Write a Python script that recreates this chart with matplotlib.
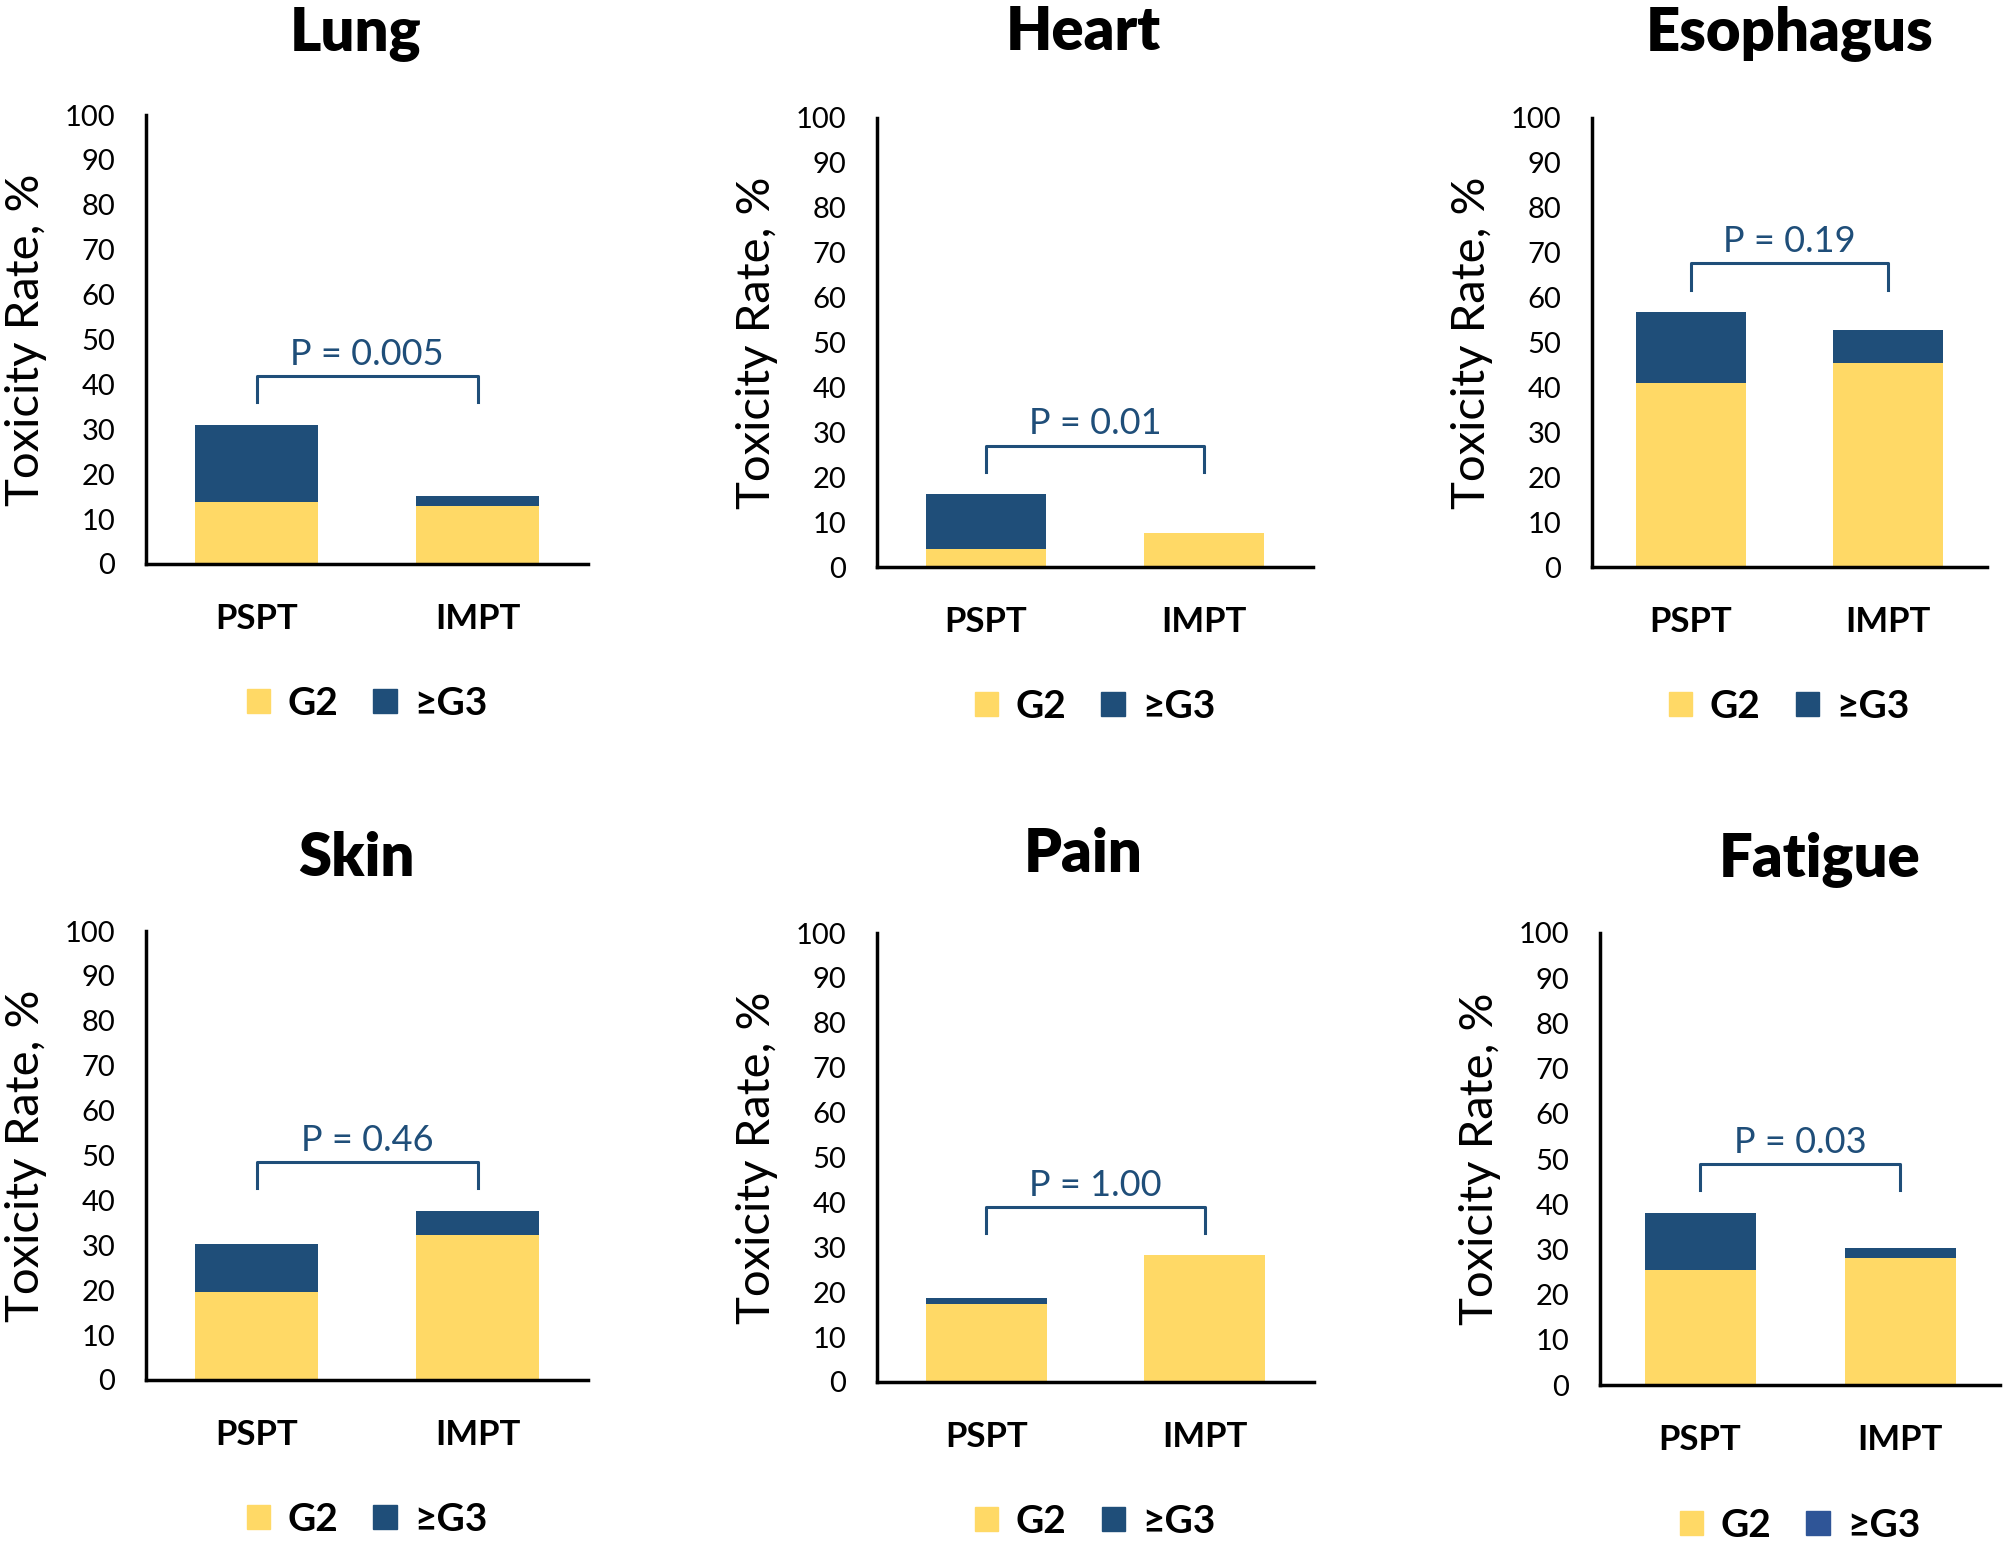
import numpy as np
import matplotlib.pyplot as plt
from matplotlib.patches import Patch

organs = ["Lung", "Heart", "Esophagus", "Skin", "Pain", "Fatigue"]
groups = ["PSPT", "IMPT"]
g2_rate = [[13.7, 13.0], [4.1, 7.5], [40.9, 45.5], [19.6, 32.3], [17.4, 28.2], [25.5, 28.0]]
g3_rate = [[17.3, 2.1], [12.1, 0.0], [15.9, 7.3], [10.7, 5.4], [1.4, 0.0], [12.6, 2.2]]
p_labels = ["P = 0.005", "P = 0.01", "P = 0.19", "P = 0.46", "P = 1.00", "P = 0.03"]
yticks = list(range(0, 101, 10))

YELLOW = "#FFD966"
BLUE = "#1F4E79"
FONT = "Lato"

W, H = 2010, 1546
fig = plt.figure(figsize=(W / 100, H / 100), dpi=100)

# axes boxes in pixels: left, right, top, bottom
boxes = [(146, 588, 115, 564), (877, 1313, 118, 567), (1592, 1987, 118, 567),
         (146, 588, 931, 1380), (877, 1314, 933, 1382), (1600, 2000, 933, 1385)]
title_pos = [(356, 50), (1083, 50), (1790, 50), (356, 876), (1083, 872), (1820, 876)]
legend_blue = [BLUE, BLUE, BLUE, BLUE, BLUE, "#2F5597"]

x = np.arange(len(groups))
for i, organ in enumerate(organs):
    l, r, t, b = boxes[i]
    ax = fig.add_axes([l / W, 1 - b / H, (r - l) / W, (b - t) / H])
    g2 = np.array(g2_rate[i])
    g3 = np.array(g3_rate[i])
    ax.bar(x, g2, width=0.555, color=YELLOW)
    ax.bar(x, g3, width=0.555, bottom=g2, color=BLUE)

    # bracket with p value
    top = (g2 + g3).max()
    leg, cap = top + 5, top + 10.8
    ax.plot([x[0], x[0], x[1], x[1]], [leg, cap, cap, leg], color=BLUE, lw=2.2,
            solid_joinstyle="round")
    ax.text(x.mean(), cap + 1.2, p_labels[i], ha="center", va="bottom",
            fontsize=26, color=BLUE, family=FONT)

    ax.set_xlim(-0.5, 1.5)
    ax.set_ylim(0, 100)
    ax.set_yticks(yticks)
    ax.set_yticklabels([str(v) for v in yticks], fontsize=21, family=FONT)
    ax.set_xticks(x)
    ax.set_xticklabels(groups, fontsize=25, fontweight="bold", family=FONT)
    ax.tick_params(axis="y", length=0, pad=22)
    ax.tick_params(axis="x", length=0, pad=28)
    for s in ["top", "right"]:
        ax.spines[s].set_visible(False)
    for s in ["left", "bottom"]:
        ax.spines[s].set_linewidth(2.5)
    ax.text(-120 / (r - l), 0.5, "Toxicity Rate, %", rotation=90, ha="center",
            va="center", transform=ax.transAxes, fontsize=34, family=FONT)

    handles = [Patch(color=YELLOW), Patch(color=legend_blue[i])]
    ax.legend(handles, ["G2", "\u2265G3"], loc="center", bbox_to_anchor=(0.5, -0.31),
              ncol=2, frameon=False, handlelength=0.6, handleheight=0.6,
              handletextpad=0.45, columnspacing=0.9,
              prop={"family": FONT, "weight": "bold", "size": 28})

    tx, ty = title_pos[i]
    fig.text(tx / W, 1 - ty / H, organ, ha="center", va="baseline",
             fontsize=43, fontweight="heavy", family=FONT)

fig.savefig("out.png", dpi=100)
